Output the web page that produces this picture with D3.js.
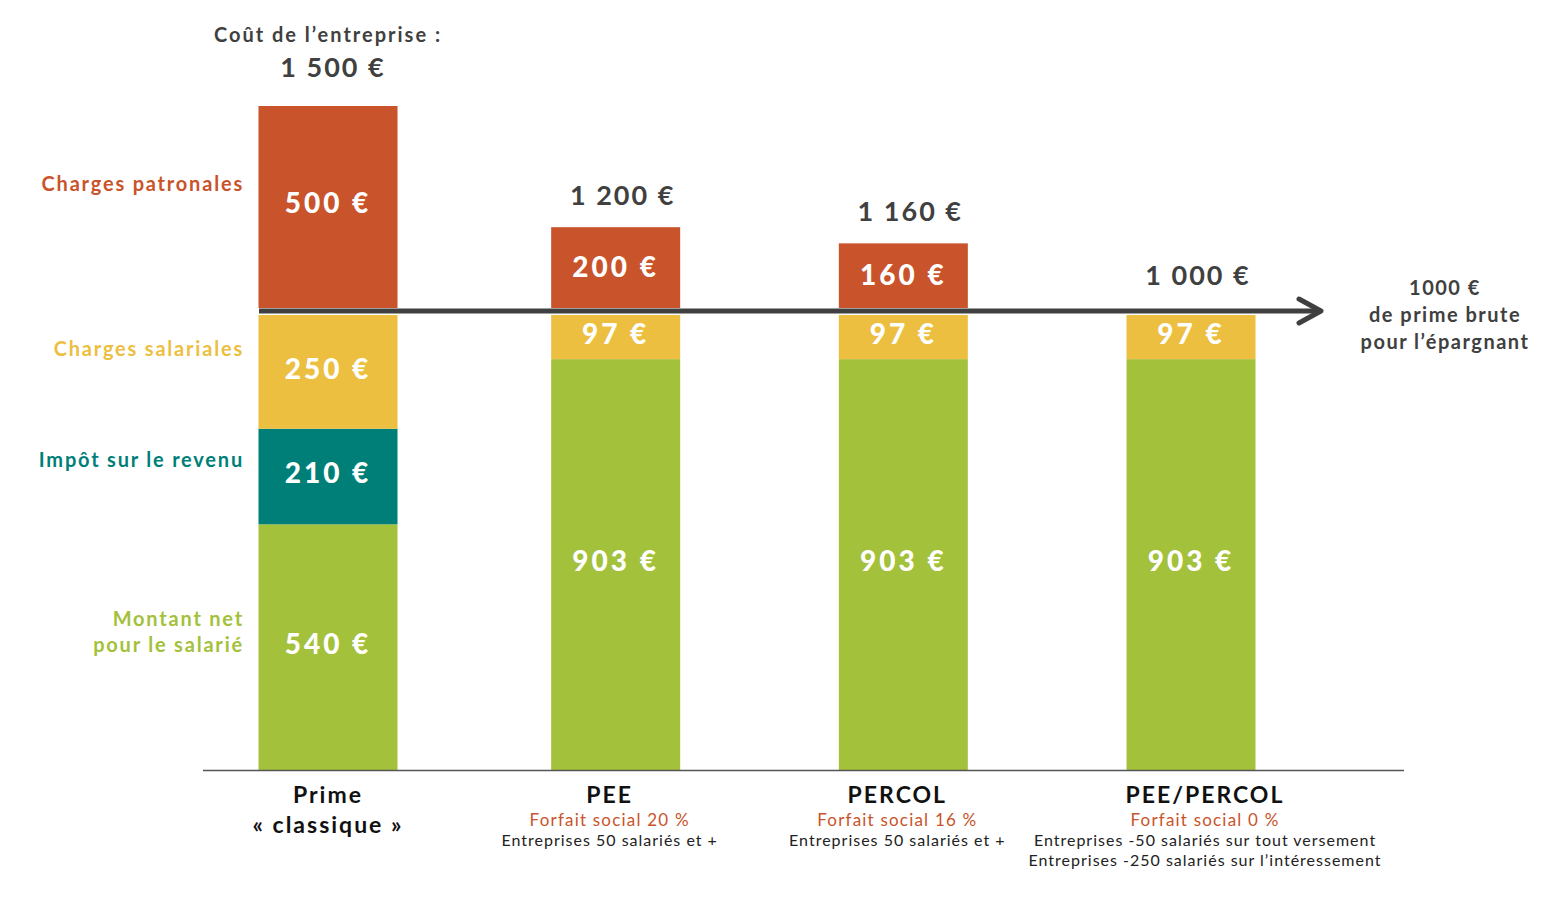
<!DOCTYPE html>
<html>
<head>
<meta charset="utf-8">
<script src="https://cdn.jsdelivr.net/npm/d3@7"></script>
<style>
  body { margin: 0; background: #fff; }
  svg text { font-family: Lato, "Open Sans", sans-serif; }
</style>
</head>
<body>
<svg width="1561" height="912"></svg>
<script>
// values
var categories = ["Prime", "PEE", "PERCOL", "PEE/PERCOL"];
var subTitle = ["« classique »", null, null, null];
var net = [540, 903, 903, 903];
var impot = [210, 0, 0, 0];
var chargesSal = [250, 97, 97, 97];
var chargesPat = [500, 200, 160, 0];
var totals = ["1 500 €", "1 200 €", "1 160 €", "1 000 €"];
var forfait = [null, "Forfait social 20 %", "Forfait social 16 %", "Forfait social 0 %"];
var notes = [[], ["Entreprises 50 salariés et +"], ["Entreprises 50 salariés et +"],
  ["Entreprises  -50 salariés sur tout  versement", "Entreprises -250 salariés sur l’intéressement"]];
var segNames = ["Montant net", "Impôt sur le revenu", "Charges salariales", "Charges patronales"];

var svg = d3.select("svg");
var cRed = "#c9532a", cYel = "#ecbf40", cTeal = "#007f79", cGreen = "#a3c13b", cDark = "#404040";

var baseY = 770, arrowY = 311;
// below the arrow: 1000 € of gross bonus, above it: employer charges
var yLow = d3.scaleLinear().domain([0, 1000]).range([baseY, 315]);
var hHigh = d3.scaleLinear().domain([0, 500]).range([0, 202]);
var xScale = d3.scalePoint().domain(categories).range([328, 1191]);
function bw(i) { return i == 0 ? 139 : 129; }

// stacked segments under the arrow
var rows = categories.map(function (c, i) {
  return { cat: c, i: i, net: net[i], impot: impot[i], sal: chargesSal[i], pat: chargesPat[i] };
});
var stack = d3.stack().keys(["net", "impot", "sal"])(rows);
var colors = { net: cGreen, impot: cTeal, sal: cYel };

var g = svg.append("g");
stack.forEach(function (layer) {
  layer.forEach(function (d) {
    var row = d.data;
    if (d[1] - d[0] <= 0) return;
    var x = xScale(row.cat) - bw(row.i) / 2;
    g.append("rect").attr("x", x).attr("width", bw(row.i))
      .attr("y", yLow(d[1])).attr("height", yLow(d[0]) - yLow(d[1]))
      .attr("fill", colors[layer.key]);
    g.append("text").attr("x", xScale(row.cat)).attr("y", (yLow(d[0]) + yLow(d[1])) / 2 - 3)
      .attr("dy", "0.35em").attr("text-anchor", "middle").attr("fill", "#fff")
      .attr("font-size", "28px").attr("font-weight", 900).attr("letter-spacing", "3px")
      .text((d[1] - d[0]) + " €");
  });
});

// employer charges above the arrow
rows.forEach(function (row) {
  var cx = xScale(row.cat);
  var top = arrowY - 3 - hHigh(row.pat);
  if (row.pat > 0) {
    g.append("rect").attr("x", cx - bw(row.i) / 2).attr("width", bw(row.i))
      .attr("y", top).attr("height", hHigh(row.pat)).attr("fill", cRed);
    g.append("text").attr("x", cx).attr("y", row.i == 0 ? top + 97 : top + hHigh(row.pat) / 2)
      .attr("dy", "0.35em").attr("text-anchor", "middle").attr("fill", "#fff")
      .attr("font-size", "28px").attr("font-weight", 900).attr("letter-spacing", "3px")
      .text(row.pat + " €");
  }
  var ty = row.i == 0 ? top - 38 : top - 32;
  g.append("text").attr("x", cx + (row.i == 0 ? 5 : 7)).attr("y", ty).attr("dy", "0.35em")
    .attr("text-anchor", "middle").attr("fill", cDark).attr("font-size", "27px")
    .attr("font-weight", 700).attr("letter-spacing", "2px").text(totals[row.i]);
  if (row.i == 0) {
    g.append("text").attr("x", cx).attr("y", ty - 33).attr("dy", "0.35em")
      .attr("text-anchor", "middle").attr("fill", cDark).attr("font-size", "20px")
      .attr("font-weight", 700).attr("letter-spacing", "2px").text("Coût de l’entreprise :");
  }
});

// baseline
svg.append("line").attr("x1", 203).attr("x2", 1404).attr("y1", baseY + 0.5).attr("y2", baseY + 0.5)
  .attr("stroke", "#555").attr("stroke-width", 1.5);

// arrow
svg.append("line").attr("x1", 259).attr("x2", 1318).attr("y1", arrowY).attr("y2", arrowY)
  .attr("stroke", cDark).attr("stroke-width", 5);
svg.append("path").attr("d", "M1299," + (arrowY - 12) + " L1321," + arrowY + " L1299," + (arrowY + 12))
  .attr("fill", "none").attr("stroke", cDark).attr("stroke-width", 5)
  .attr("stroke-linecap", "round").attr("stroke-linejoin", "round");
var rl = ["1000 €", "de prime brute", "pour l’épargnant"];
rl.forEach(function (t, k) {
  svg.append("text").attr("x", 1445).attr("y", 288 + k * 27).attr("dy", "0.35em")
    .attr("text-anchor", "middle").attr("fill", cDark).attr("font-size", "20px")
    .attr("font-weight", 700).attr("letter-spacing", "1.5px").text(t);
});

// legend labels on the left
var leftLabels = [
  { lines: [segNames[3]], color: cRed, y: 184 },
  { lines: [segNames[2]], color: cYel, y: 349 },
  { lines: [segNames[1]], color: cTeal, y: 460 },
  { lines: ["Montant net", "pour le salarié"], color: cGreen, y: 619 }
];
leftLabels.forEach(function (l) {
  l.lines.forEach(function (t, k) {
    svg.append("text").attr("x", 244).attr("y", l.y + k * 26).attr("dy", "0.35em")
      .attr("text-anchor", "end").attr("fill", l.color).attr("font-size", "20px")
      .attr("font-weight", 700).attr("letter-spacing", "1.8px").text(t);
  });
});

// category labels under the bars
rows.forEach(function (row) {
  var cx = xScale(row.cat);
  var tx = row.i == 0 ? cx : cx - 6 + (row.i == 3 ? 20 : 0);
  svg.append("text").attr("x", tx).attr("y", 795).attr("dy", "0.35em").attr("text-anchor", "middle")
    .attr("fill", "#111").attr("font-size", "23px").attr("font-weight", 700)
    .attr("letter-spacing", "2px").text(row.cat);
  if (subTitle[row.i]) {
    svg.append("text").attr("x", cx).attr("y", 825).attr("dy", "0.35em").attr("text-anchor", "middle")
      .attr("fill", "#111").attr("font-size", "23px").attr("font-weight", 700)
      .attr("letter-spacing", "2px").text(subTitle[row.i]);
  }
  if (forfait[row.i]) {
    svg.append("text").attr("x", tx).attr("y", 820).attr("dy", "0.35em").attr("text-anchor", "middle")
      .attr("fill", cRed).attr("font-size", "17px").attr("letter-spacing", "1.2px").text(forfait[row.i]);
  }
  notes[row.i].forEach(function (t, k) {
    svg.append("text").attr("x", tx).attr("y", 840 + k * 20).attr("dy", "0.35em")
      .attr("text-anchor", "middle").attr("fill", "#222").attr("font-size", "16px")
      .attr("letter-spacing", "1px").text(t);
  });
});
</script>
</body>
</html>
